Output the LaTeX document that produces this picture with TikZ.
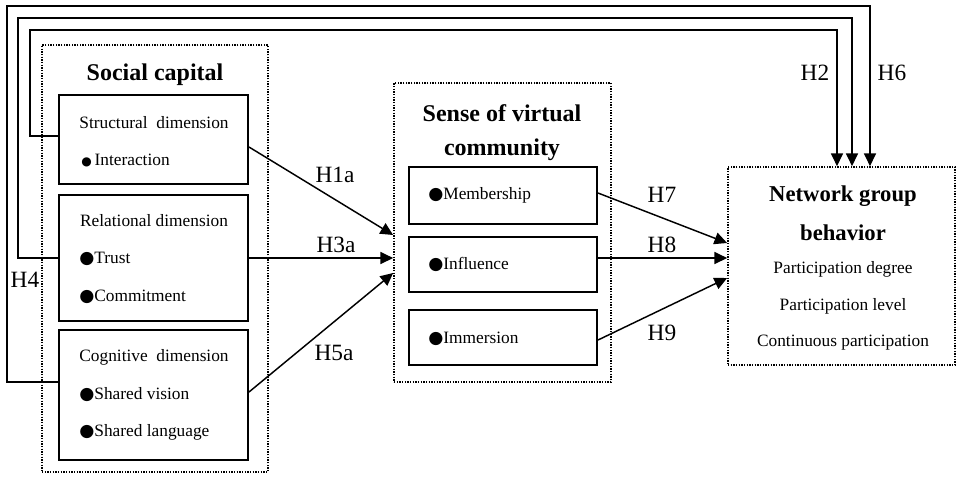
\documentclass[tikz,border=0pt]{standalone}
\usepackage{fontspec}
\setmainfont{Liberation Serif}
\newfontfamily\symfont{DejaVu Sans}
\usetikzlibrary{arrows.meta}
\newcommand\mybul{{\symfont ●}}
\newcommand\mysmallbul{{\symfont\fontsize{9}{10}\selectfont ●}}
\begin{document}
\begin{tikzpicture}[x=0.75pt,y=-0.75pt,
 box/.style={draw, line width=1.5pt, inner sep=0pt},
 dotbox/.style={draw, line width=1.3pt, dash pattern=on 0.9pt off 1.1pt, inner sep=0pt},
 txt/.style={inner sep=0pt, font=\fontsize{13}{15}\selectfont},
 ttl/.style={inner sep=0pt, font=\fontsize{18}{21}\selectfont\bfseries},
 hl/.style={inner sep=0pt, font=\fontsize{17.5}{20}\selectfont},
 arr/.style={line width=1.1pt, -{Triangle[length=9.5pt,width=9pt]}},
]
\useasboundingbox (0,0) rectangle (958,476);

% dotted group boxes
\node[dotbox, minimum width=169.5pt, minimum height=320.25pt] (sc) at (155,258.5) {};
\node[dotbox, minimum width=162.75pt, minimum height=224.25pt] (svc) at (502.5,232.5) {};
\node[dotbox, minimum width=170.25pt, minimum height=148.5pt] (net) at (841.5,266) {};

% social capital boxes
\node[box, minimum width=141.75pt, minimum height=66.75pt] (sd) at (153.5,139.5) {};
\node[box, minimum width=141.75pt, minimum height=94.5pt] (rd) at (153.5,258) {};
\node[box, minimum width=141.75pt, minimum height=97.5pt] (cd) at (153.5,395) {};

% sense of virtual community boxes
\node[box, minimum width=141pt, minimum height=42.75pt] (mem) at (503,195.5) {};
\node[box, minimum width=141pt, minimum height=41.25pt] (inf) at (503,264.5) {};
\node[box, minimum width=141pt, minimum height=41.25pt] (imm) at (503,337.5) {};

% titles
\node[ttl] (sct) at (155,75) {Social capital};
\node[ttl] (svt1) at (502,113) {Sense of virtual};
\node[ttl] (svt2) at (502,150) {community};
\node[ttl, font=\fontsize{17}{20}\selectfont\bfseries] (nt1) at (843,196) {Network group};
\node[ttl, font=\fontsize{17}{20}\selectfont\bfseries] (nt2) at (843,233) {behavior};

% texts
\node[txt] (t1) at (154,123) {Structural~~dimension};
\node[txt, anchor=west] (t2) at (81,160) {\mysmallbul\,Interaction};
\node[txt] (t3) at (154,221) {Relational~dimension};
\node[txt, anchor=west] (t4) at (79,259) {\mybul Trust};
\node[txt, anchor=west] (t5) at (79,297) {\mybul Commitment};
\node[txt] (t6) at (154,357) {Cognitive~~dimension};
\node[txt, anchor=west] (t7) at (79,395) {\mybul Shared vision};
\node[txt, anchor=west] (t8) at (79,432) {\mybul Shared language};
\node[txt, anchor=west] (t9) at (428,195) {\mybul Membership};
\node[txt, anchor=west] (t10) at (428,264) {\mybul Influence};
\node[txt, anchor=west] (t11) at (428,339) {\mybul Immersion};
\node[txt] (t12) at (843,269) {Participation degree};
\node[txt] (t13) at (843,306) {Participation level};
\node[txt] (t14) at (843,343) {Continuous participation};

% hypothesis labels
\node[hl] (h1a) at (335,175) {H1a};
\node[hl] (h3a) at (336,245) {H3a};
\node[hl] (h5a) at (334,353) {H5a};
\node[hl] (h7) at (662,195) {H7};
\node[hl] (h8) at (662,245) {H8};
\node[hl] (h9) at (662,333) {H9};
\node[hl] (h2) at (815,73) {H2};
\node[hl] (h6) at (892,73) {H6};
\node[hl] (h4) at (25,280) {H4};

% connectors to sense of virtual community
\draw[arr] (sd.east |- 0,147) -- (svc.west |- 0,235);
\draw[arr] (rd.east) -- (svc.west |- 0,258);
\draw[arr] (cd.east |- 0,392) -- (svc.west |- 0,273);

% connectors to network group behavior
\draw[arr] (mem.east |- 0,193) -- (net.west |- 0,243);
\draw[arr] (inf.east |- 0,258) -- (net.west |- 0,258);
\draw[arr] (imm.east |- 0,340) -- (net.west |- 0,278);

% long feedback connectors
\draw[arr] (sd.west |- 0,136) -- (30,136) -- (30,30) -- (837,30) -- (837,30 |- net.north);
\draw[arr] (rd.west) -- (18,258) -- (18,18) -- (852,18) -- (852,18 |- net.north);
\draw[arr] (cd.west |- 0,382) -- (7,382) -- (7,6) -- (870,6) -- (870,6 |- net.north);
\end{tikzpicture}
\end{document}
